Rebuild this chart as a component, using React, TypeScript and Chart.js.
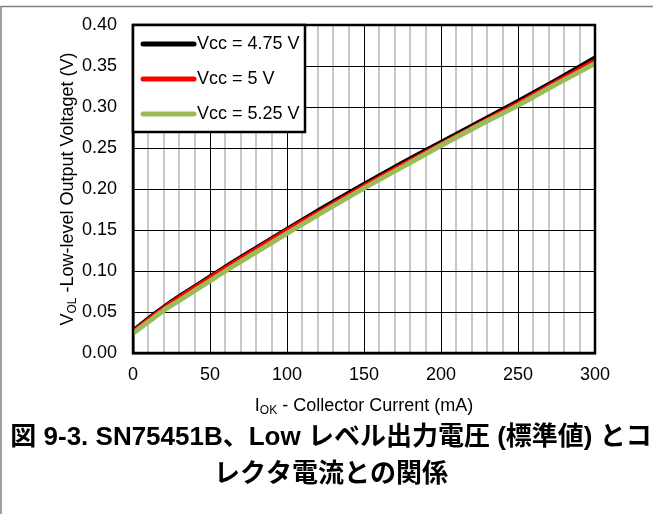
import React, { useEffect, useRef } from "react";
import { Chart, registerables } from "chart.js";

Chart.register(...registerables);

// ---- data ----
const currents = [0, 10, 20, 30, 40, 50, 60, 80, 100, 125, 150, 175, 200, 225, 250, 275, 300];
const vcc475 = [0.027, 0.042, 0.056, 0.069, 0.081, 0.093, 0.105, 0.128, 0.151, 0.179, 0.206, 0.232, 0.257, 0.282, 0.307, 0.333, 0.36];
const vcc500 = [0.026, 0.041, 0.055, 0.068, 0.08, 0.092, 0.104, 0.127, 0.15, 0.177, 0.204, 0.23, 0.255, 0.28, 0.305, 0.331, 0.357];
const vcc525 = [0.024, 0.038, 0.052, 0.064, 0.076, 0.088, 0.1, 0.123, 0.146, 0.174, 0.201, 0.227, 0.253, 0.278, 0.302, 0.328, 0.353];
const seriesLabels = ["Vcc = 4.75 V", "Vcc = 5 V", "Vcc = 5.25 V"];
const seriesColors = ["#000000", "#ff0000", "#9bbb59"];
const seriesWidths = [4.5, 4, 5];
const xMin = 0, xMax = 300, xMinorStep = 10, xMajorStep = 50;
const yMin = 0, yMax = 0.4, yStep = 0.05;
const yTitleParts = [["V", false], ["OL", true], [" -Low-level Output Voltaget (V)", false]] as [string, boolean][];
const xTitleParts = [["I", false], ["OK", true], [" - Collector Current (mA)", false]] as [string, boolean][];
const figureTitle = ["図 9-3. SN75451B、Low レベル出力電圧 (標準値) とコ", "レクタ電流との関係"];

const FONT = "'Liberation Sans', Arial, sans-serif";
const TITLE_FONT = "'Liberation Sans', Arial, 'Noto Sans CJK JP', sans-serif";

function drawParts(ctx: CanvasRenderingContext2D, parts: [string, boolean][], size: number, subSize: number) {
  let total = 0;
  const widths = parts.map(([t, sub]) => {
    ctx.font = `${sub ? subSize : size}px ${FONT}`;
    const w = ctx.measureText(t).width;
    total += w;
    return w;
  });
  let x = -total / 2;
  ctx.textAlign = "left";
  ctx.textBaseline = "middle";
  parts.forEach(([t, sub], i) => {
    ctx.font = `${sub ? subSize : size}px ${FONT}`;
    ctx.fillText(t, x, sub ? 4.5 : 0);
    x += widths[i];
  });
}

const decor = {
  id: "decor",
  beforeDraw(chart: any) {
    const ctx = chart.ctx as CanvasRenderingContext2D;
    ctx.save();
    ctx.fillStyle = "#ffffff";
    ctx.fillRect(0, 0, chart.width, chart.height);
    ctx.strokeStyle = "#808080";
    ctx.lineWidth = 1.5;
    ctx.beginPath();
    ctx.moveTo(1, chart.height);
    ctx.lineTo(1, 6.5);
    ctx.lineTo(chart.width, 6.5);
    ctx.stroke();
    ctx.restore();
  },
  afterDatasetsDraw(chart: any) {
    const ctx = chart.ctx as CanvasRenderingContext2D;
    const { left, top, right, bottom } = chart.chartArea;
    ctx.save();
    // plot frame
    ctx.strokeStyle = "#000";
    ctx.lineWidth = 2.5;
    ctx.strokeRect(left, top, right - left, bottom - top);

    // legend
    const lx = left, ly = top, lw = 172, lh = 107;
    ctx.fillStyle = "#fff";
    ctx.fillRect(lx, ly, lw, lh);
    ctx.strokeStyle = "#000";
    ctx.lineWidth = 2.5;
    ctx.strokeRect(lx, ly, lw, lh);
    seriesLabels.forEach((label, i) => {
      const yy = ly + 19 + i * 35;
      ctx.strokeStyle = seriesColors[i];
      ctx.lineWidth = 5;
      ctx.lineCap = "round";
      ctx.beginPath();
      ctx.moveTo(lx + 10, yy);
      ctx.lineTo(lx + 61, yy);
      ctx.stroke();
      ctx.fillStyle = "#000";
      ctx.font = `18px ${FONT}`;
      ctx.textAlign = "left";
      ctx.textBaseline = "middle";
      ctx.fillText(label, lx + 64, yy);
    });

    // axis titles
    ctx.fillStyle = "#000";
    ctx.save();
    ctx.translate(68, (top + bottom) / 2);
    ctx.rotate(-Math.PI / 2);
    drawParts(ctx, yTitleParts, 18, 12);
    ctx.restore();

    ctx.save();
    ctx.translate((left + right) / 2, 406);
    drawParts(ctx, xTitleParts, 18, 12);
    ctx.restore();

    // figure caption
    ctx.font = `bold 26px ${TITLE_FONT}`;
    ctx.textAlign = "center";
    ctx.textBaseline = "middle";
    ctx.fillText(figureTitle[0], 331, 438);
    ctx.fillText(figureTitle[1], 331, 475);
    ctx.restore();
  },
};

export default function App() {
  const ref = useRef<HTMLCanvasElement | null>(null);
  useEffect(() => {
    if (!ref.current) return;
    const series = [vcc475, vcc500, vcc525];
    const chart = new Chart(ref.current, {
      type: "line",
      data: {
        datasets: series.map((vals, i) => ({
          label: seriesLabels[i],
          data: currents.map((c, j) => ({ x: c, y: vals[j] })),
          borderColor: seriesColors[i],
          backgroundColor: seriesColors[i],
          borderWidth: seriesWidths[i],
          pointRadius: 0,
          cubicInterpolationMode: "monotone" as const,
          order: 3 - i,
        })),
      },
      options: {
        animation: false,
        responsive: false,
        devicePixelRatio: 1,
        layout: { padding: { left: 0, top: 25, right: 58, bottom: 0 } },
        plugins: { legend: { display: false }, tooltip: { enabled: false }, title: { display: false } },
        scales: {
          x: {
            type: "linear",
            min: xMin,
            max: xMax,
            afterFit: (s: any) => {
              s.height = 161;
              s.paddingLeft = 0; s.paddingRight = 0;
            },
            ticks: {
              stepSize: xMinorStep,
              maxTicksLimit: 1000,
              autoSkip: false,
              maxRotation: 0,
              padding: 11,
              color: "#000",
              font: { family: FONT, size: 18 },
              callback: (v: any) => (Number(v) % xMajorStep === 0 ? String(v) : ""),
            },
            grid: {
              drawTicks: false,
              color: (c: any) => (c.tick && c.tick.value % xMajorStep === 0 ? "#000" : "#c8c8c8"),
              lineWidth: (c: any) => (c.tick && c.tick.value % xMajorStep === 0 ? 1 : 2),
            },
            border: { display: true, color: "#000", width: 2.5 },
          },
          y: {
            type: "linear",
            min: yMin,
            max: yMax,
            afterFit: (s: any) => {
              s.width = 133;
              s.paddingTop = 0; s.paddingBottom = 0;
            },
            ticks: {
              stepSize: yStep,
              maxTicksLimit: 1000,
              padding: 16,
              color: "#000",
              font: { family: FONT, size: 18 },
              callback: (v: any) => Number(v).toFixed(2),
            },
            grid: { drawTicks: false, color: "#000", lineWidth: 1 },
            border: { display: true, color: "#000", width: 2.5 },
          },
        },
      },
      plugins: [decor],
    });
    return () => chart.destroy();
  }, []);
  return (
    <div style={{ position: "absolute", left: 0, top: 0, width: 653, height: 514 }}>
      <canvas ref={ref} width={653} height={514} style={{ display: "block" }} />
    </div>
  );
}
